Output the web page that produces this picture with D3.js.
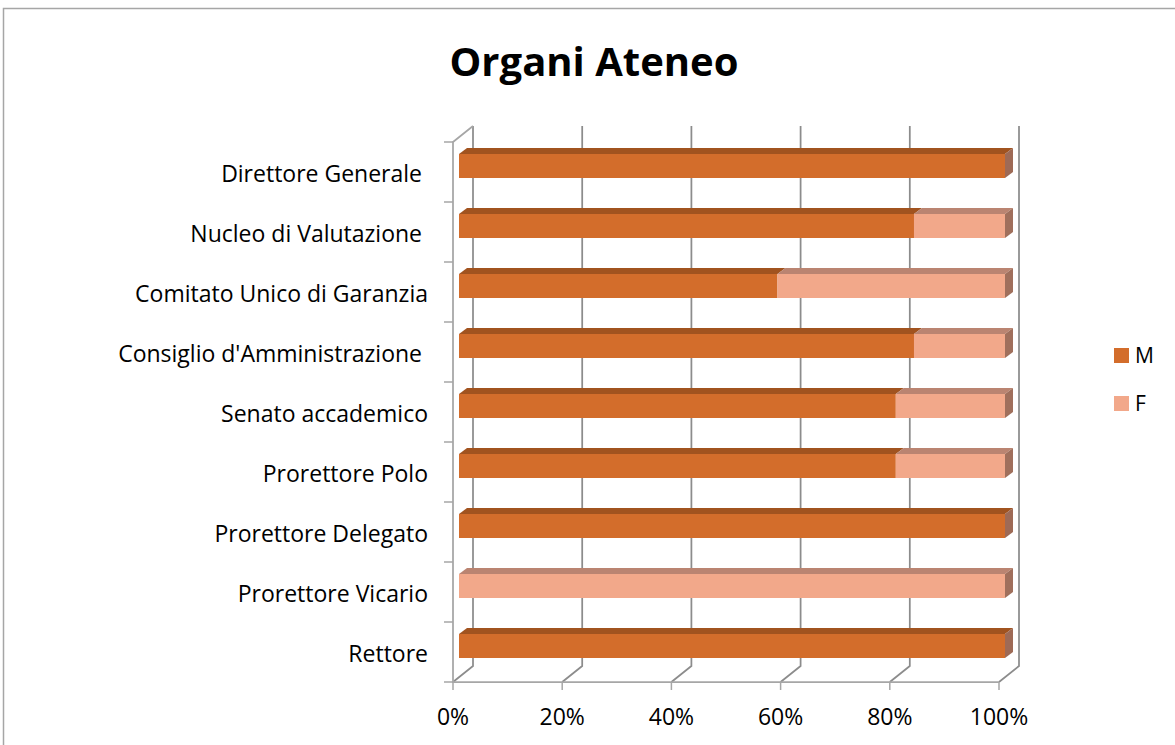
<!DOCTYPE html>
<html>
<head>
<meta charset="utf-8">
<script src="https://cdn.jsdelivr.net/npm/d3@7"></script>
<style>
  body { margin: 0; background: #fff; }
  text { font-family: "Open Sans", sans-serif; fill: #000; white-space: pre; }
</style>
</head>
<body>
<svg id="chart" width="1175" height="745"></svg>
<script>
// Categories, top to bottom as shown
const categories = [
    "Direttore Generale ",
    "Nucleo di Valutazione ",
    "Comitato Unico di Garanzia",
    "Consiglio d'Amministrazione ",
    "Senato accademico",
    "Prorettore Polo",
    "Prorettore Delegato",
    "Prorettore Vicario",
    "Rettore"
];

// Share of men / women per body
const maleShare   = [1, 0.8333, 0.5833, 0.8333, 0.8, 0.8, 1, 0, 1];
const femaleShare = [0, 0.1667, 0.4167, 0.1667, 0.2, 0.2, 0, 1, 0];

const seriesNames = ["M", "F"];
const tickValues = [0, 0.2, 0.4, 0.6, 0.8, 1];

const colors = {
    M: { front: "#D36D2B", top: "#A1531F", side: "#9E6A56" },
    F: { front: "#F2A88A", top: "#BA8471", side: "#A06F5C" }
};

const svg = d3.select("#chart");

// outer frame (only top/left visible)
svg.append("path")
    .attr("d", "M3.5,745 L3.5,8.5 L1175,8.5")
    .attr("fill", "none")
    .attr("stroke", "#A6A6A6")
    .attr("stroke-width", 1.5);

svg.append("text")
    .attr("x", 594)
    .attr("y", 76)
    .attr("text-anchor", "middle")
    .attr("font-size", "40px")
    .attr("font-weight", "bold")
    .text("Organi Ateneo");

// front plane scales + depth offset
const x = d3.scaleLinear().domain([0, 1]).range([453, 999]);
const y = d3.scaleBand().domain(categories).range([142, 682]);
const depthX = 20, depthY = -16;

const grid = svg.append("g").attr("fill", "none");

// back wall gridlines + floor diagonals
tickValues.forEach(t => {
    const fx = x(t);
    grid.append("path")
        .attr("d", `M${fx + depthX},${142 + depthY} L${fx + depthX},${682 + depthY} L${fx},682`)
        .attr("stroke", "#8C8C8C")
        .attr("stroke-width", 1.75);
    // tick mark under the floor
    grid.append("line")
        .attr("x1", fx).attr("x2", fx)
        .attr("y1", 682).attr("y2", 690)
        .attr("stroke", "#A6A6A6")
        .attr("stroke-width", 1.5);
});

// left wall edge and floor front edge
grid.append("path")
    .attr("d", `M${x(0) + depthX},${142 + depthY} L${x(0)},142 L${x(0)},682 L${x(1)},682`)
    .attr("stroke", "#A6A6A6")
    .attr("stroke-width", 1.75);

// left ticks on band boundaries
d3.range(categories.length + 1).forEach(i => {
    const yy = 142 + i * y.step();
    grid.append("line")
        .attr("x1", 444).attr("x2", x(0))
        .attr("y1", yy).attr("y2", yy)
        .attr("stroke", "#A6A6A6")
        .attr("stroke-width", 1.5);
});

// 3D bars
const barOffX = 6, barOffY = -6;   // position of bar front inside the depth
const barDX = 8, barDY = -6;       // bar thickness
const barH = 24;

const stackData = categories.map((c, i) => ({ cat: c, M: maleShare[i], F: femaleShare[i] }));
const stacked = d3.stack().keys(seriesNames)(stackData);

const bars = svg.append("g");
stacked.forEach(layer => {
    const col = colors[layer.key];
    layer.forEach(d => {
        if (d[1] - d[0] <= 0) return;
        const x0 = x(d[0]) + barOffX;
        const x1 = x(d[1]) + barOffX;
        const yT = y(d.data.cat) + y.bandwidth() / 2 - barH / 2 + barOffY;
        const yB = yT + barH;
        bars.append("rect")
            .attr("x", x0).attr("y", yT)
            .attr("width", x1 - x0).attr("height", barH)
            .attr("fill", col.front);
        bars.append("polygon")
            .attr("points", [[x0, yT], [x1, yT], [x1 + barDX, yT + barDY], [x0 + barDX, yT + barDY]].join(" "))
            .attr("fill", col.top);
        if (d[1] >= 0.999) {
            bars.append("polygon")
                .attr("points", [[x1, yT], [x1 + barDX, yT + barDY], [x1 + barDX, yB + barDY], [x1, yB]].join(" "))
                .attr("fill", col.side);
        }
    });
});

// category labels
svg.append("g").selectAll("text")
    .data(categories)
    .join("text")
    .attr("x", 428)
    .attr("y", d => y(d) + y.bandwidth() / 2 + 1)
    .attr("text-anchor", "end")
    .attr("dominant-baseline", "central")
    .attr("font-size", "23px")
    .text(d => d);

// x tick labels
svg.append("g").selectAll("text")
    .data(tickValues)
    .join("text")
    .attr("x", d => x(d))
    .attr("y", 725)
    .attr("text-anchor", "middle")
    .attr("font-size", "23px")
    .text(d3.format(".0%"));

// legend
const legend = svg.append("g");
seriesNames.forEach((s, i) => {
    const ly = 348 + i * 48;
    legend.append("rect")
        .attr("x", 1114).attr("y", ly)
        .attr("width", 15).attr("height", 15)
        .attr("fill", colors[s].front);
    legend.append("text")
        .attr("x", 1135)
        .attr("y", ly + 15)
        .attr("font-size", "21px")
        .text(s);
});
</script>
</body>
</html>
